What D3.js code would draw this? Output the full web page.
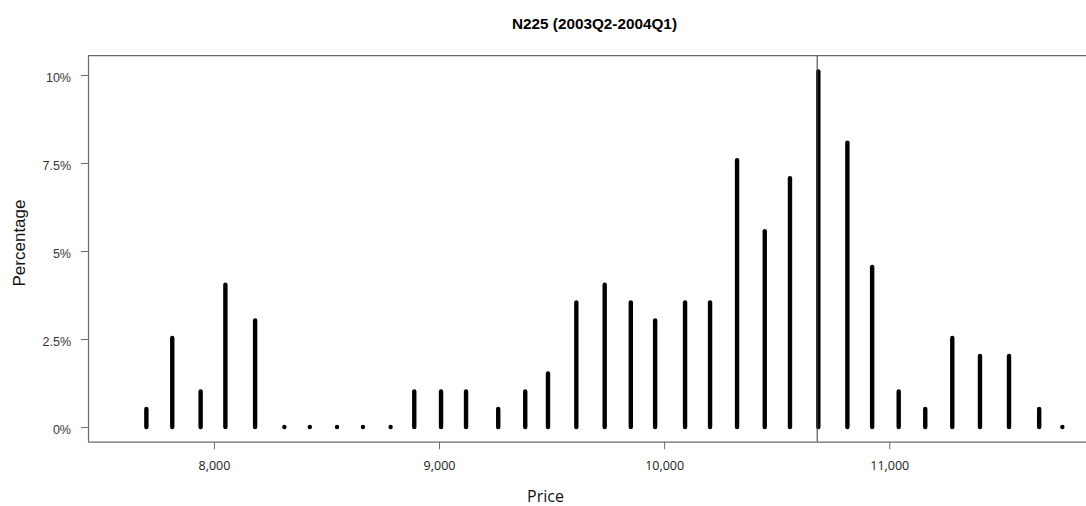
<!DOCTYPE html>
<html>
<head>
<meta charset="utf-8">
<script src="https://cdn.jsdelivr.net/npm/d3@7"></script>
<style>
  html, body { margin: 0; padding: 0; background: #fff; }
  svg { display: block; }
</style>
</head>
<body>
<svg id="chart" width="1086" height="506"></svg>
<script>
// ---- data ----
const prices = [7700, 7815, 7941, 8051, 8183, 8313, 8426, 8547, 8662, 8785,
                8890, 9009, 9120, 9263, 9383, 9484, 9610, 9736, 9852, 9960,
                10093, 10204, 10324, 10447, 10559, 10685, 10814, 10924, 11042, 11160,
                11280, 11403, 11532, 11666, 11769];
const percentages = [0.51, 2.53, 1.01, 4.04, 3.03, 0, 0, 0, 0, 0,
                     1.01, 1.01, 1.01, 0.51, 1.01, 1.52, 3.54, 4.04, 3.54, 3.03,
                     3.54, 3.54, 7.58, 5.56, 7.07, 10.1, 8.08, 4.55, 1.01, 0.51,
                     2.53, 2.02, 2.02, 0.51, 0];
const xTicks = [8000, 9000, 10000, 11000];
const yTicks = [0, 2.5, 5, 7.5, 10];
const yTickLabels = ["0%", "2.5%", "5%", "7.5%", "10%"];
const currentPrice = 10680;
const titleText = "N225 (2003Q2-2004Q1)";
const xTitle = "Price";
const yTitle = "Percentage";

(function () {
// ---- layout ----
const svg = d3.select("#chart");
const pLeft = 88, pRight = 1086, pTop = 55.7, pBottom = 441.7;

const x = d3.scaleLinear().domain([7440.7, 11874]).range([pLeft, pRight]);
const y = d3.scaleLinear().domain([-0.417, 10.548]).range([pBottom, pTop]);

const axisColor = "#6b6b6b";

// frame: top line
svg.append("line").attr("x1", pLeft).attr("x2", pRight).attr("y1", pTop).attr("y2", pTop)
  .attr("stroke", axisColor).attr("stroke-width", 1.2);

// spikes
svg.append("g").selectAll("line")
  .data(prices.map((p, i) => ({p, v: percentages[i]})))
  .join("line")
  .attr("x1", d => x(d.p)).attr("x2", d => x(d.p))
  .attr("y1", y(0)).attr("y2", d => y(d.v))
  .attr("stroke", "#000").attr("stroke-width", 4.4)
  .attr("stroke-linecap", "round");

// current price vertical line
svg.append("line")
  .attr("x1", x(currentPrice)).attr("x2", x(currentPrice))
  .attr("y1", pTop).attr("y2", pBottom)
  .attr("stroke", "#444").attr("stroke-width", 1.1);

// x axis
const gx = svg.append("g").attr("transform", `translate(0,${pBottom})`)
  .call(d3.axisBottom(x).tickValues(xTicks).tickFormat(d3.format(",")).tickSize(7.5).tickPadding(11.5));
gx.select(".domain").attr("stroke", axisColor).attr("stroke-width", 1.2)
  .attr("d", `M${pLeft},0.5H${pRight}`);
gx.selectAll(".tick line").attr("stroke", axisColor);
gx.selectAll(".tick text").attr("fill", "#222")
  .style("font-family", "'Open Sans', 'Noto Sans', sans-serif").style("font-size", "12.5px");

// y axis
const gy = svg.append("g").attr("transform", `translate(${pLeft},0)`)
  .call(d3.axisLeft(y).tickValues(yTicks).tickFormat((d, i) => yTickLabels[i]).tickSize(7).tickPadding(10));
gy.select(".domain").attr("stroke", axisColor).attr("stroke-width", 1.2)
  .attr("d", `M0.5,${pTop}V${pBottom}`);
gy.selectAll(".tick line").attr("stroke", axisColor);
gy.selectAll(".tick text").attr("fill", "#333").attr("dy", "0.5em")
  .style("font-family", "'Liberation Sans', Arial, sans-serif").style("font-size", "12.5px");

// title
svg.append("text").attr("x", 594.5).attr("y", 28.5).attr("text-anchor", "middle")
  .style("font-family", "'Liberation Sans', Arial, sans-serif").style("font-weight", "bold")
  .style("font-size", "15.3px").attr("fill", "#000").text(titleText);

// axis titles
svg.append("text").attr("x", 545.5).attr("y", 501.5).attr("text-anchor", "middle")
  .style("font-family", "'Open Sans', 'Noto Sans', sans-serif").style("font-size", "16px")
  .attr("fill", "#111").text(xTitle);

svg.append("text").attr("transform", "translate(25,243) rotate(-90)").attr("text-anchor", "middle")
  .style("font-family", "'Liberation Sans', Arial, sans-serif").style("font-size", "17px")
  .attr("fill", "#111").text(yTitle);
})();
</script>
</body>
</html>
